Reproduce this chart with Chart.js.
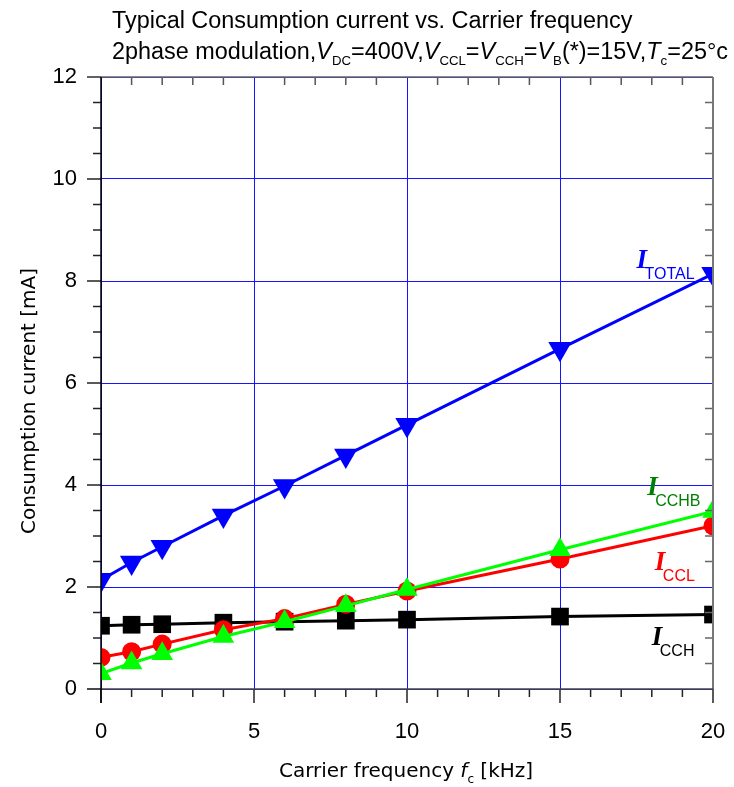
<!DOCTYPE html>
<html>
<head>
<meta charset="utf-8">
<script src="https://cdn.jsdelivr.net/npm/chart.js@4.4.1/dist/chart.umd.min.js"></script>
<style>
  html, body { margin: 0; padding: 0; background: #fff; }
  canvas { display: block; }
</style>
</head>
<body>
<canvas id="chart" width="734" height="787"></canvas>
<script>
// Data
const freq = [0, 1, 2, 4, 6, 8, 10, 15, 20];
const iTotal = [2.14, 2.48, 2.79, 3.40, 3.98, 4.58, 5.18, 6.67, 8.14];
const iCchb = [0.30, 0.51, 0.69, 1.03, 1.32, 1.63, 1.95, 2.73, 3.48];
const iCcl = [0.62, 0.73, 0.88, 1.16, 1.38, 1.66, 1.92, 2.55, 3.20];
const iCch = [1.24, 1.26, 1.27, 1.30, 1.32, 1.34, 1.36, 1.42, 1.46];

const xTicks = [0, 5, 10, 15, 20];
const yTicks = [0, 2, 4, 6, 8, 10, 12];

const gridBlue = 'rgb(20,20,255)';
const sans = '"Liberation Sans", Arial, sans-serif';
const verdana = '"DejaVu Sans", Verdana, sans-serif';

// where the plot area should sit on the canvas
const plotBox = { left: 101, right: 713, top: 77, bottom: 689 };

const toPoints = (ys) => freq.map((f, i) => ({ x: f, y: ys[i] }));

// Series name labels (subscript text), anchored in data units
const seriesLabels = [
    { sub: 'TOTAL', color: '#0000ff', x: 17.5, y: 8.25 },
    { sub: 'CCHB', color: '#008000', x: 17.85, y: 3.8 },
    { sub: 'CCL', color: '#ff0000', x: 18.1, y: 2.33 },
    { sub: 'CCH', color: '#000000', x: 18.0, y: 0.86 },
];

// Draw text made of normal / italic / subscript pieces
function richWidth(ctx, parts, size, subSize, family) {
    let w = 0;
    parts.forEach(([t, s]) => {
        ctx.font = (s === 'i' ? 'italic ' : '') + (s === 's' ? subSize : size) + 'px ' + family;
        w += ctx.measureText(t).width;
    });
    return w;
}

function drawRich(ctx, parts, x, baseline, size, subSize, family, scaleX) {
    ctx.save();
    ctx.translate(x, baseline);
    ctx.scale(scaleX || 1, 1);
    let cx = 0;
    parts.forEach(([t, s]) => {
        ctx.font = (s === 'i' ? 'italic ' : '') + (s === 's' ? subSize : size) + 'px ' + family;
        ctx.fillText(t, cx, s === 's' ? size * 0.28 : 0);
        cx += ctx.measureText(t).width;
    });
    ctx.restore();
}

const titleLine1 = [['Typical Consumption current vs. Carrier frequency', 'n']];
const titleLine2 = [
    ['2phase modulation,', 'n'], ['V', 'i'], ['DC', 's'], ['=400V,', 'n'],
    ['V', 'i'], ['CCL', 's'], ['=', 'n'], ['V', 'i'], ['CCH', 's'], ['=', 'n'],
    ['V', 'i'], ['B', 's'], ['(*)=15V,', 'n'], ['T', 'i'], ['c', 's'], ['=25°c', 'n'],
];

const decorPlugin = {
    id: 'decor',
    afterDatasetsDraw(chart) {
        const { ctx, chartArea: a, scales: { x, y } } = chart;
        ctx.save();
        const seg = (x1, y1, x2, y2, c, w) => {
            ctx.strokeStyle = c;
            ctx.lineWidth = w || 1.5;
            ctx.beginPath();
            ctx.moveTo(x1, y1);
            ctx.lineTo(x2, y2);
            ctx.stroke();
        };
        // x ticks: outward on bottom, inward on top
        for (let v = 0; v <= 20; v++) {
            const px = x.getPixelForValue(v);
            const major = v % 5 === 0;
            seg(px, a.bottom, px, a.bottom + (major ? 14 : 8), '#222');
            if (!major) seg(px, a.top, px, a.top + 8, '#555');
        }
        // y ticks: outward on left, inward on right
        for (let v = 0; v <= 12; v += 0.5) {
            const py = y.getPixelForValue(v);
            const major = v % 2 === 0;
            seg(a.left - (major ? 14 : 8), py, a.left, py, '#222');
            if (!major) seg(a.right - 8, py, a.right, py, '#666');
        }
        // frame
        seg(a.left - 14, a.top, a.right, a.top, '#666');
        seg(a.right, a.top, a.right, a.bottom, '#777', 2);
        seg(a.left - 14, a.bottom, a.right, a.bottom, '#444');
        seg(a.left, a.top, a.left, a.bottom + 14, '#000');

        // series labels
        seriesLabels.forEach((l) => {
            const px = x.getPixelForValue(l.x);
            const py = y.getPixelForValue(l.y);
            ctx.fillStyle = l.color;
            ctx.font = 'italic bold 27px "Liberation Serif", "Times New Roman", serif';
            ctx.textAlign = 'left';
            ctx.textBaseline = 'alphabetic';
            ctx.fillText('I', px, py);
            ctx.font = '16px ' + sans;
            ctx.fillText(l.sub, px + 8, py + 11);
        });
        ctx.restore();
    },
    afterDraw(chart) {
        const { ctx } = chart;
        ctx.save();
        ctx.fillStyle = '#000';
        ctx.textAlign = 'left';
        ctx.textBaseline = 'alphabetic';
        // title: both lines share one horizontal squeeze, fitted on line 2
        const w2 = richWidth(ctx, titleLine2, 23, 13, sans);
        const squeeze = 616 / w2;
        drawRich(ctx, titleLine1, 112, 28, 23, 13, sans, squeeze);
        drawRich(ctx, titleLine2, 112, 59, 23, 13, sans, squeeze);

        // x axis title
        const xParts = [['Carrier frequency ', 'n'], ['f', 'i'], ['c', 's'], [' [kHz]', 'n']];
        const xw = richWidth(ctx, xParts, 20, 12, verdana);
        drawRich(ctx, xParts, 406 - xw / 2, 777, 20, 12, verdana);

        // y axis title
        ctx.translate(35, 401);
        ctx.rotate(-Math.PI / 2);
        ctx.textAlign = 'center';
        ctx.font = '20px ' + verdana;
        ctx.fillText('Consumption current [mA]', 0, 0);
        ctx.restore();
    },
};

const common = {
    borderWidth: 3,
    tension: 0,
    clip: 0,
    pointBorderWidth: 0,
};

const chart = new Chart(document.getElementById('chart'), {
    type: 'line',
    data: {
        datasets: [
            { ...common, label: 'I_TOTAL', data: toPoints(iTotal), borderColor: '#0000ff', pointBackgroundColor: '#0000ff',
              pointStyle: 'triangle', pointRotation: 180, pointRadius: 13.5 },
            { ...common, label: 'I_CCHB', data: toPoints(iCchb), borderColor: '#00ff00', pointBackgroundColor: '#00ff00',
              pointStyle: 'triangle', pointRadius: 12.5 },
            { ...common, label: 'I_CCL', data: toPoints(iCcl), borderColor: '#ff0000', pointBackgroundColor: '#ff0000',
              pointStyle: 'circle', pointRadius: 9.5 },
            { ...common, label: 'I_CCH', data: toPoints(iCch), borderColor: '#000000', pointBackgroundColor: '#000000',
              pointStyle: 'rect', pointRadius: 12.5 },
        ],
    },
    options: {
        responsive: false,
        animation: false,
        layout: { padding: { left: 0, right: 21, top: 77, bottom: 0 } },
        plugins: { legend: { display: false }, tooltip: { enabled: false } },
        scales: {
            x: {
                type: 'linear',
                min: 0,
                max: 20,
                afterBuildTicks: (s) => { s.ticks = xTicks.map((v) => ({ value: v })); },
                afterFit: (s) => { s.height = 787 - plotBox.bottom; s.paddingLeft = 0; s.paddingRight = 0; },
                ticks: { color: '#000', padding: 30, maxRotation: 0, font: { family: sans, size: 22 } },
                grid: { color: gridBlue, lineWidth: 1, drawTicks: false },
                border: { display: false },
            },
            y: {
                min: 0,
                max: 12,
                afterBuildTicks: (s) => { s.ticks = yTicks.map((v) => ({ value: v })); },
                afterFit: (s) => { s.width = plotBox.left; s.paddingTop = 0; s.paddingBottom = 0; },
                ticks: { color: '#000', padding: 24, font: { family: sans, size: 22 } },
                grid: { color: gridBlue, lineWidth: 1, drawTicks: false },
                border: { display: false },
            },
        },
    },
    plugins: [decorPlugin],
});

// nudge the padding until the plot area lands on plotBox
for (let k = 0; k < 4; k++) {
    const a = chart.chartArea;
    const pad = chart.options.layout.padding;
    const dr = plotBox.right - a.right;
    const dt = plotBox.top - a.top;
    const db = plotBox.bottom - a.bottom;
    if (Math.abs(dr) < 0.5 && Math.abs(dt) < 0.5 && Math.abs(db) < 0.5) break;
    pad.right = Math.max(0, pad.right - dr / 2);
    pad.top = Math.max(0, pad.top + dt);
    pad.bottom = Math.max(0, pad.bottom - db);
    chart.update();
}
</script>
</body>
</html>
